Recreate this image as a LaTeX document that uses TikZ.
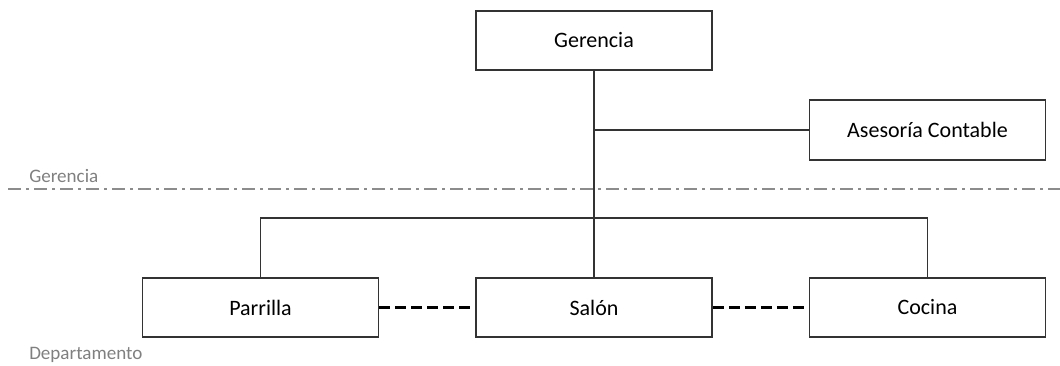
\documentclass[tikz,border=0pt]{standalone}
\usepackage{fontspec}
\setmainfont{Carlito}
\usepackage{tikz}

\begin{document}
\begin{tikzpicture}[x=0.75pt,y=-0.75pt,
		puesto/.style={draw=black!80,line width=1.3pt,fill=white,minimum width=177pt,minimum height=44.5pt,inner sep=0pt,font=\fontsize{16.5}{19}\selectfont},
		nivel/.style={text=black!50,anchor=west,inner sep=0pt,font=\fontsize{14.3}{17}\selectfont},
		linea/.style={draw=black!80,line width=1.3pt},
		enlace/.style={draw=black,line width=2.2pt,dash pattern=on 8pt off 4pt}]
			\useasboundingbox (0,0) rectangle (1060,365);
			% niveles
			\draw [black!45,line width=1.4pt,dash pattern=on 10pt off 3.5pt on 2.5pt off 3.5pt] (8,189) -- (1060,189);
			\node [nivel] (lg) at (29,176) {Gerencia};
			\node [nivel] (ld) at (29,355) {Departamento};
			% puestos
			\node [puesto] (ger) at (594,40.5) {Gerencia};
			\node [puesto] (ase) at (927.5,130) {Asesoría Contable};
			\node [puesto] (par) at (260.5,307.5) {Parrilla};
			\node [puesto] (sal) at (594,307.5) {Salón};
			\node [puesto] (coc) at (927.5,307.5) {Cocina};
			\coordinate (bus) at (594,218);
			% lineas
			\draw [linea] (ger.south) -- (sal.north);
			\draw [linea] (ger.south |- ase.west) -- (ase.west);
			\draw [linea] (par.north) -- (par.north |- bus) -- (coc.north |- bus) -- (coc.north);
			\draw [enlace] (par.east) -- (sal.west);
			\draw [enlace] (sal.east) -- (coc.west);
		\end{tikzpicture}
\end{document}
